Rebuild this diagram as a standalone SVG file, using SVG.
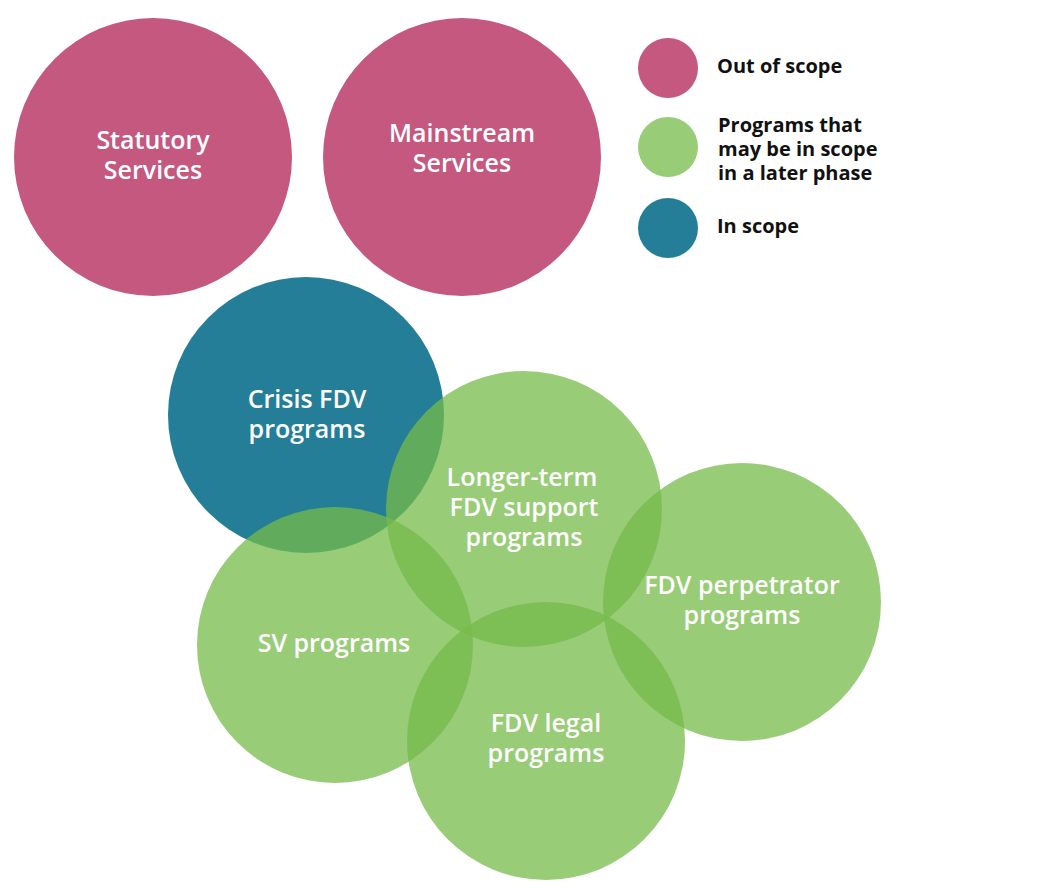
<svg xmlns="http://www.w3.org/2000/svg" width="1042" height="890" viewBox="0 0 1042 890">
<style>
.pink{fill:#C4587F}
.teal{fill:#247E98}
.green{fill:#76BB4A;fill-opacity:0.75}
.lbl{font-family:"Open Sans","Liberation Sans",sans-serif;font-weight:600;font-size:25px;fill:#ffffff;text-anchor:middle}
.leg{font-family:"Open Sans","Liberation Sans",sans-serif;font-weight:700;font-size:20px;fill:#111111}
</style>
<rect width="1042" height="890" fill="#ffffff"/>
<g id="statutory"><circle class="pink" cx="153" cy="157" r="139"/><text class="lbl" x="153" y="149">Statutory</text><text class="lbl" x="153" y="179">Services</text></g>
<g id="mainstream"><circle class="pink" cx="462" cy="157" r="139"/><text class="lbl" x="462" y="142">Mainstream</text><text class="lbl" x="462" y="172">Services</text></g>
<g id="crisis"><circle class="teal" cx="306" cy="415" r="138"/><text class="lbl" x="307" y="408">Crisis FDV</text><text class="lbl" x="307" y="438">programs</text></g>
<g id="longer"><circle class="green" cx="524" cy="509" r="138"/><text class="lbl" x="522" y="486">Longer-term</text><text class="lbl" x="524" y="516">FDV support</text><text class="lbl" x="524" y="546">programs</text></g>
<g id="sv"><circle class="green" cx="335" cy="645" r="138"/><text class="lbl" x="334" y="652">SV programs</text></g>
<g id="perpetrator"><circle class="green" cx="742" cy="602" r="139"/><text class="lbl" x="742" y="594">FDV perpetrator</text><text class="lbl" x="742" y="624">programs</text></g>
<g id="legal"><circle class="green" cx="546" cy="741" r="139"/><text class="lbl" x="546" y="732">FDV legal</text><text class="lbl" x="546" y="762">programs</text></g>
<g id="legend">
<circle class="pink" cx="668" cy="68" r="30"/>
<text class="leg" x="717" y="73">Out of scope</text>
<circle cx="668" cy="147" r="30" fill="#99CC77"/>
<text class="leg" x="718" y="132">Programs that</text>
<text class="leg" x="718" y="156">may be in scope</text>
<text class="leg" x="718" y="180">in a later phase</text>
<circle class="teal" cx="668" cy="228" r="30"/>
<text class="leg" x="717" y="233">In scope</text>
</g>
<g id="connectors"/>
</svg>
